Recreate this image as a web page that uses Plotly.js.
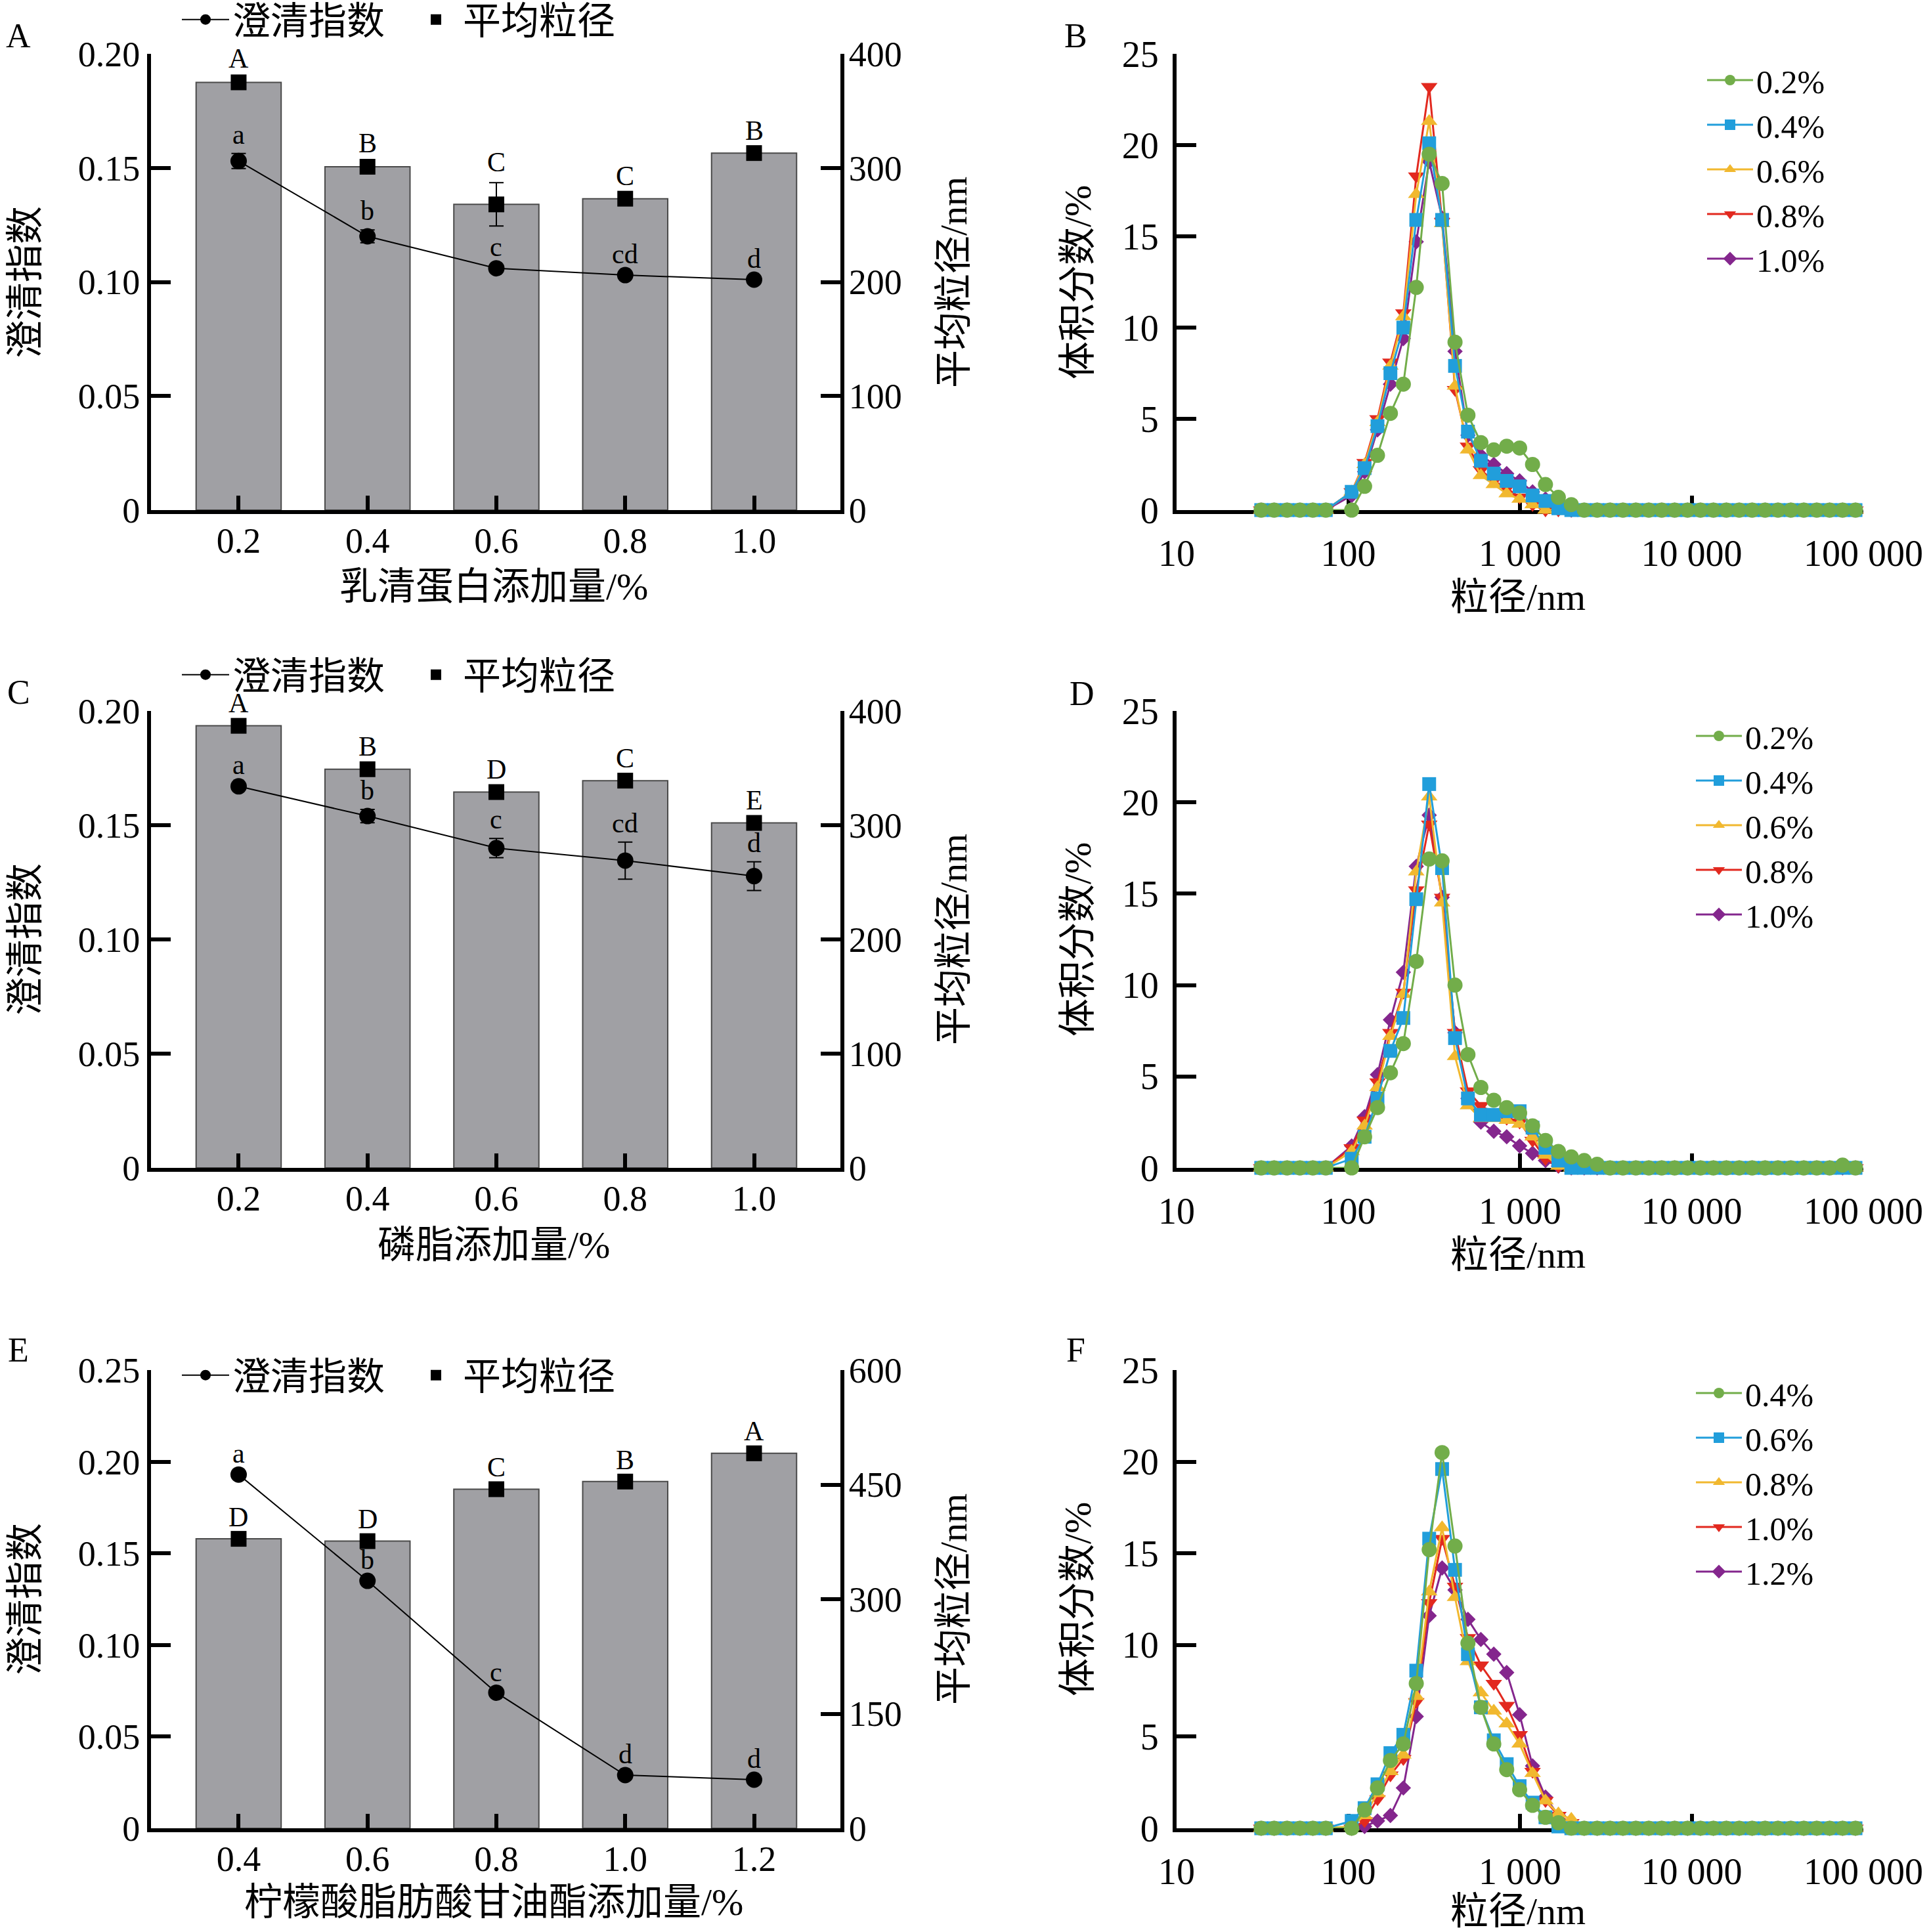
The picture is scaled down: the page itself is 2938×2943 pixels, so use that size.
<!DOCTYPE html>
<html>
<head>
<meta charset="utf-8">
<script src="https://cdn.plot.ly/plotly-3.0.1.min.js"></script>
<style>body{margin:0;background:#fff}</style>
</head>
<body>
<div id="chart" style="width:2938px;height:2943px"></div>
<script>
// ---- bar + line panels (A, C, E) ----
const catsA = ['0.2', '0.4', '0.6', '0.8', '1.0'];
const sizeA = [375, 301, 268, 273, 313];
const sizeErrA = [3, 3, 19, 2, 2];
const clarA = [0.153, 0.120, 0.106, 0.103, 0.101];
const clarErrA = [0.0033, 0.0028, 0.001, 0.001, 0.0008];
const sizeLetA = ['A', 'B', 'C', 'C', 'B'];
const clarLetA = ['a', 'b', 'c', 'cd', 'd'];

const catsC = ['0.2', '0.4', '0.6', '0.8', '1.0'];
const sizeC = [387, 349, 329, 339, 302];
const sizeErrC = [2, 2, 2, 2, 2];
const clarC = [0.167, 0.154, 0.140, 0.1345, 0.1277];
const clarErrC = [0.001, 0.0029, 0.0042, 0.0081, 0.0063];
const sizeLetC = ['A', 'B', 'D', 'C', 'E'];
const clarLetC = ['a', 'b', 'c', 'cd', 'd'];

const catsE = ['0.4', '0.6', '0.8', '1.0', '1.2'];
const sizeE = [379, 376, 444, 454, 491];
const sizeErrE = [2, 2, 2, 2, 2];
const clarE = [0.193, 0.135, 0.074, 0.029, 0.0265];
const clarErrE = [0.001, 0.001, 0.001, 0.001, 0.001];
const sizeLetE = ['D', 'D', 'C', 'B', 'A'];
const clarLetE = ['a', 'b', 'c', 'd', 'd'];

// ---- particle size distributions (B, D, F) ----
const sizeBins = [31.11, 37.00, 44.00, 52.33, 62.23, 74.00, 104.7, 124.5, 148.0, 176.0, 209.3, 248.9, 296.0, 352.0,
  418.6, 497.8, 592.0, 704.0, 837.2, 995.6, 1184, 1408, 1674, 1991, 2367, 2815, 3348, 3981, 4734, 5630, 6695,
  7962, 9468, 11260, 13390, 15920, 18930, 22510, 26770, 31830, 37850, 45010, 53530, 63660, 75700, 90020];

const labelsB = ['0.2%', '0.4%', '0.6%', '0.8%', '1.0%'];
const distB_1 = [0,0,0,0,0,0, 0,1.3,3.0,5.3,6.9,12.2,19.5,17.9,9.2,5.2,3.7,3.3,3.5,3.4,2.5,1.4,0.7,0.3, 0,0,0,0,0,0,0,0,0,0,0,0,0,0,0,0,0,0,0,0,0,0];
const distB_2 = [0,0,0,0,0,0, 1.0,2.3,4.6,7.5,10.0,15.9,20.1,15.9,7.9,4.3,2.7,2.0,1.6,1.3,0.8,0.5,0.1,0, 0,0,0,0,0,0,0,0,0,0,0,0,0,0,0,0,0,0,0,0,0,0];
const distB_3 = [0,0,0,0,0,0, 1.0,2.5,4.8,7.9,10.6,17.3,21.3,15.7,6.8,3.3,1.9,1.4,0.9,0.6,0.3,0,0,0, 0,0,0,0,0,0,0,0,0,0,0,0,0,0,0,0,0,0,0,0,0,0];
const distB_4 = [0,0,0,0,0,0, 1.0,2.6,5.0,8.1,10.8,18.3,23.2,15.8,6.6,3.5,2.2,1.6,1.2,0.7,0.3,0,0,0, 0,0,0,0,0,0,0,0,0,0,0,0,0,0,0,0,0,0,0,0,0,0];
const distB_5 = [0,0,0,0,0,0, 0.8,2.1,4.4,6.9,9.4,14.7,19.1,16.0,8.7,4.1,3.0,2.5,2.0,1.6,1.0,0.6,0.2,0, 0,0,0,0,0,0,0,0,0,0,0,0,0,0,0,0,0,0,0,0,0,0];

const labelsD = ['0.2%', '0.4%', '0.6%', '0.8%', '1.0%'];
const distD_1 = [0,0,0,0,0,0, 0,1.7,3.3,5.2,6.8,11.3,16.9,16.8,10.0,6.2,4.4,3.7,3.3,3.0,2.3,1.5,0.9,0.6, 0.4,0.2,0,0,0,0,0,0,0,0,0,0,0,0,0,0,0,0,0,0,0.15,0];
const distD_2 = [0,0,0,0,0,0, 0.5,1.7,3.8,6.4,8.2,14.7,21.0,16.4,7.1,3.8,2.9,2.9,3.1,3.1,2.2,1.1,0.4,0, 0,0,0,0,0,0,0,0,0,0,0,0,0,0,0,0,0,0,0,0,0,0];
const distD_3 = [0,0,0,0,0,0, 0.9,2.3,4.4,7.2,9.5,16.2,20.3,14.5,6.1,3.4,2.7,2.7,2.6,2.4,1.7,0.7,0.1,0, 0,0,0,0,0,0,0,0,0,0,0,0,0,0,0,0,0,0,0,0,0,0];
const distD_4 = [0,0,0,0,0,0, 1.1,2.6,4.7,7.4,9.6,15.2,18.8,14.8,7.4,4.2,3.4,3.0,2.7,2.5,1.5,0.5,0.1,0, 0,0,0,0,0,0,0,0,0,0,0,0,0,0,0,0,0,0,0,0,0,0];
const distD_5 = [0,0,0,0,0,0, 1.2,2.8,5.1,8.1,10.7,16.5,19.3,14.8,7.4,3.8,2.5,2.0,1.7,1.2,0.8,0.4,0.1,0, 0,0,0,0,0,0,0,0,0,0,0,0,0,0,0,0,0,0,0,0,0,0];

const labelsF = ['0.4%', '0.6%', '0.8%', '1.0%', '1.2%'];
const distF_1 = [0,0,0,0,0,0, 0,1.0,2.2,3.7,4.6,7.9,15.2,20.5,15.4,10.1,6.6,4.6,3.2,2.1,1.25,0.6,0.3,0, 0,0,0,0,0,0,0,0,0,0,0,0,0,0,0,0,0,0,0,0,0,0];
const distF_2 = [0,0,0,0,0,0, 0.4,1.1,2.4,4.1,5.1,8.6,15.8,19.6,14.1,9.5,6.6,4.8,3.5,2.3,1.4,0.6,0.1,0, 0,0,0,0,0,0,0,0,0,0,0,0,0,0,0,0,0,0,0,0,0,0];
const distF_3 = [0,0,0,0,0,0, 0.1,0.7,1.9,3.1,4.0,7.2,12.9,16.4,12.6,9.1,7.4,6.4,5.7,4.6,3.0,1.5,0.8,0.5, 0,0,0,0,0,0,0,0,0,0,0,0,0,0,0,0,0,0,0,0,0,0];
const distF_4 = [0,0,0,0,0,0, 0,0.4,1.6,2.9,3.8,6.9,12.3,15.8,13.2,10.4,8.9,7.9,6.7,5.1,3.1,1.5,0.7,0.3, 0,0,0,0,0,0,0,0,0,0,0,0,0,0,0,0,0,0,0,0,0,0];
const distF_5 = [0,0,0,0,0,0, 0,0.1,0.4,0.7,2.2,6.1,11.6,14.2,13.0,11.4,10.3,9.5,8.5,6.2,3.4,1.7,0.7,0.2, 0,0,0,0,0,0,0,0,0,0,0,0,0,0,0,0,0,0,0,0,0,0];

const logTickVals = [10, 100, 1000, 10000, 100000];
const logTickText = ['10', '100', '1 000', '10 000', '100 000'];

const psdColors = ['#72ad4a', '#219edb', '#f1b82f', '#e2291f', '#84268d'];
const psdSymbols = ['circle', 'square', 'triangle-up', 'triangle-down', 'diamond'];
const psdSizes = [23, 21, 22, 22, 18];

const FONT = 'Liberation Serif, Noto Sans CJK SC, serif';
const W = 2938, H = 2943;
const px = v => v / W;
const py = v => 1 - v / H;

const leftDom = [px(230), px(1280)];
const rightDom = [px(1792), px(2838)];
const rows = [[py(777), py(82)], [py(1779), py(1083)], [py(2785), py(2087)]];
const rowMid = [430, 1431, 2436];

const traces = [];
const annotations = [];

function barPanel(cats, size, sizeErr, clar, clarErr, sizeLet, clarLet, xa, yMain, yOver, legendId) {
    traces.push({
        type: 'bar', x: cats, y: size, xaxis: xa, yaxis: yMain, width: 0.66,
        marker: {color: '#a0a0a4', line: {color: '#4a4a4a', width: 2}},
        showlegend: false, hoverinfo: 'skip'
    });
    traces.push({
        type: 'scatter', mode: 'markers', name: '平均粒径', x: cats, y: size,
        xaxis: xa, yaxis: yMain, legend: legendId, legendrank: 2, cliponaxis: false,
        marker: {symbol: 'square', size: 24, color: '#000'},
        error_y: {type: 'data', array: sizeErr, color: '#000', thickness: 2, width: 11}
    });
    traces.push({
        type: 'scatter', mode: 'lines+markers', name: '澄清指数', x: cats, y: clar,
        xaxis: xa, yaxis: yOver, legend: legendId, legendrank: 1, cliponaxis: false,
        line: {color: '#000', width: 2},
        marker: {symbol: 'circle', size: 25, color: '#000'},
        error_y: {type: 'data', array: clarErr, color: '#000', thickness: 2, width: 11}
    });
    // significance letters: x given as category index
    cats.forEach((c, i) => {
        annotations.push({x: i, y: size[i] + sizeErr[i], xref: xa, yref: yMain, text: sizeLet[i],
            showarrow: false, xanchor: 'center', yanchor: 'bottom', yshift: 6,
            font: {family: FONT, size: 42, color: '#000'}});
        annotations.push({x: i, y: clar[i] + clarErr[i], xref: xa, yref: yOver, text: clarLet[i],
            showarrow: false, xanchor: 'center', yanchor: 'bottom', yshift: 4,
            font: {family: FONT, size: 42, color: '#000'}});
    });
}

function psdPanel(labels, series, xa, ya, legendId) {
    // purple drawn first so green ends on top
    for (let i = series.length - 1; i >= 0; i--) {
        traces.push({
            type: 'scatter', mode: 'lines+markers', name: labels[i], x: sizeBins, y: series[i],
            xaxis: xa, yaxis: ya, legend: legendId, legendrank: i + 1, cliponaxis: false,
            line: {color: psdColors[i], width: 3},
            marker: {symbol: psdSymbols[i], size: psdSizes[i], color: psdColors[i]}
        });
    }
}

barPanel(catsA, sizeA, sizeErrA, clarA, clarErrA, sizeLetA, clarLetA, 'x', 'y', 'y2', 'legend');
psdPanel(labelsB, [distB_1, distB_2, distB_3, distB_4, distB_5], 'x2', 'y3', 'legend2');
barPanel(catsC, sizeC, sizeErrC, clarC, clarErrC, sizeLetC, clarLetC, 'x3', 'y4', 'y5', 'legend3');
psdPanel(labelsD, [distD_1, distD_2, distD_3, distD_4, distD_5], 'x4', 'y6', 'legend4');
barPanel(catsE, sizeE, sizeErrE, clarE, clarErrE, sizeLetE, clarLetE, 'x5', 'y7', 'y8', 'legend5');
psdPanel(labelsF, [distF_1, distF_2, distF_3, distF_4, distF_5], 'x6', 'y9', 'legend6');

const axBase = {
    showline: true, linewidth: 6, linecolor: '#000', ticks: 'inside', tickwidth: 6, tickcolor: '#000',
    showgrid: false, zeroline: false, fixedrange: true, tickfont: {family: FONT, size: 54, color: '#000'}
};
const catX = (dom, anchor) => Object.assign({}, axBase, {
    domain: dom, anchor: anchor, type: 'category', range: [-0.68, 4.67], ticklen: 22, ticklabelstandoff: -6
});
const rightY = (dom, anchor, max, vals) => Object.assign({}, axBase, {
    domain: dom, anchor: anchor, side: 'right', range: [0, max], tickvals: vals, ticklen: 30, ticklabelstandoff: -4
});
const leftY = (over, anchor, max, vals, text) => Object.assign({}, axBase, {
    overlaying: over, anchor: anchor, side: 'left', range: [0, max], tickvals: vals, ticktext: text,
    ticklen: 30, ticklabelstandoff: 0
});
const logX = (dom, anchor) => Object.assign({}, axBase, {
    domain: dom, anchor: anchor, type: 'log', range: [1, 5], tickvals: logTickVals, ticktext: logTickText,
    ticklen: 22, ticklabelstandoff: 12, layer: 'below traces', tickfont: {family: FONT, size: 56, color: '#000'}
});
const psdY = (dom, anchor) => Object.assign({}, axBase, {
    domain: dom, anchor: anchor, range: [0, 25], tickvals: [0, 5, 10, 15, 20, 25], ticklen: 30,
    ticklabelstandoff: 10, tickfont: {family: FONT, size: 56, color: '#000'}
});

const clarVals = [0, 0.05, 0.10, 0.15, 0.20];
const clarText = ['0', '0.05', '0.10', '0.15', '0.20'];
const clarValsE = [0, 0.05, 0.10, 0.15, 0.20, 0.25];
const clarTextE = ['0', '0.05', '0.10', '0.15', '0.20', '0.25'];

const barLegend = yc => ({
    orientation: 'h', x: px(272), y: py(yc), xanchor: 'left', yanchor: 'middle',
    font: {family: FONT, size: 58, color: '#000'}, bgcolor: 'rgba(0,0,0,0)', itemwidth: 72,
    entrywidth: 264, entrywidthmode: 'pixels'
});
const psdLegend = (x, ytop) => ({
    orientation: 'v', x: px(x), y: py(ytop), xanchor: 'left', yanchor: 'top',
    font: {family: FONT, size: 50, color: '#000'}, bgcolor: 'rgba(0,0,0,0)', itemwidth: 70
});

const panelLetters = [['A', 28, 54], ['B', 1638, 54], ['C', 28, 1054], ['D', 1648, 1056], ['E', 28, 2056], ['F', 1638, 2056]];
panelLetters.forEach(([t, x, y]) => annotations.push({
    text: t, x: px(x), y: py(y), xref: 'paper', yref: 'paper', showarrow: false,
    xanchor: 'center', yanchor: 'middle', font: {family: FONT, size: 52, color: '#000'}
}));

const titleFont = {family: FONT, size: 58, color: '#000'};
const paperText = (t, x, y, angle) => annotations.push({
    text: t, x: px(x), y: py(y), xref: 'paper', yref: 'paper', showarrow: false,
    xanchor: 'center', yanchor: 'middle', textangle: angle || 0, font: titleFont
});
const xTitlesLeft = [['乳清蛋白添加量/%', 893], ['磷脂添加量/%', 1897], ['柠檬酸脂肪酸甘油酯添加量/%', 2897]];
xTitlesLeft.forEach(([t, y]) => paperText(t, 752, y));
[910, 1912, 2911].forEach(y => paperText('粒径/nm', 2312, y));
rowMid.forEach(y => {
    paperText('澄清指数', 38, y, -90);
    paperText('平均粒径/nm', 1452, y, -90);
    paperText('体积分数/%', 1641, y, -90);
});

const layout = {
    width: W, height: H,
    margin: {l: 0, r: 0, t: 0, b: 0, autoexpand: false},
    paper_bgcolor: '#fff', plot_bgcolor: 'rgba(0,0,0,0)',
    font: {family: FONT, color: '#000'},
    barmode: 'overlay',
    xaxis: catX(leftDom, 'y'),
    yaxis: rightY(rows[0], 'x', 400, [0, 100, 200, 300, 400]),
    yaxis2: leftY('y', 'x', 0.2, clarVals, clarText),
    xaxis2: logX(rightDom, 'y3'),
    yaxis3: psdY(rows[0], 'x2'),
    xaxis3: catX(leftDom, 'y4'),
    yaxis4: rightY(rows[1], 'x3', 400, [0, 100, 200, 300, 400]),
    yaxis5: leftY('y4', 'x3', 0.2, clarVals, clarText),
    xaxis4: logX(rightDom, 'y6'),
    yaxis6: psdY(rows[1], 'x4'),
    xaxis5: catX(leftDom, 'y7'),
    yaxis7: rightY(rows[2], 'x5', 600, [0, 150, 300, 450, 600]),
    yaxis8: leftY('y7', 'x5', 0.25, clarValsE, clarTextE),
    xaxis6: logX(rightDom, 'y9'),
    yaxis9: psdY(rows[2], 'x6'),
    legend: barLegend(30),
    legend3: barLegend(1028),
    legend5: barLegend(2095),
    legend2: psdLegend(2595, 83),
    legend4: psdLegend(2578, 1082),
    legend6: psdLegend(2578, 2083),
    annotations: annotations
};

Plotly.newPlot('chart', traces, layout, {staticPlot: true});
</script>
</body>
</html>
